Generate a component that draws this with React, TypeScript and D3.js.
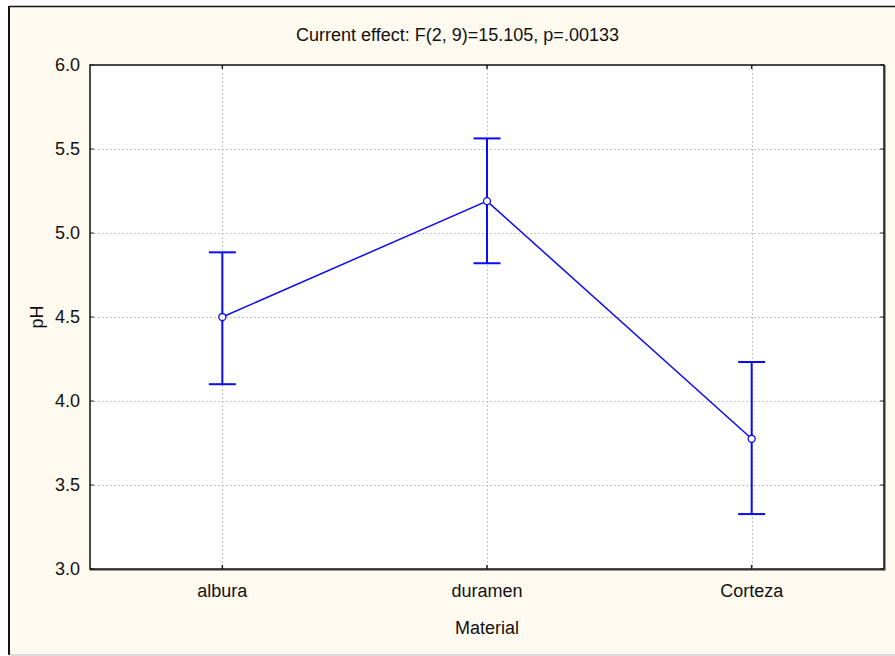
import React from "react";
import * as d3 from "d3";

// Mean pH by material with ±confidence intervals
const categories = ["albura", "duramen", "Corteza"];
const means = [4.5, 5.19, 3.775];
const upper = [4.885, 5.563, 4.232];
const lower = [4.1, 4.82, 3.327];
const yTicks = [3.0, 3.5, 4.0, 4.5, 5.0, 5.5, 6.0];
const title = "Current effect: F(2, 9)=15.105, p=.00133";
const xTitle = "Material";
const yTitle = "pH";

const W = 895;
const H = 656;
const plot = { left: 90, top: 65, right: 884, bottom: 569 };
const BLUE = "#0a0aff";
const FONT = "'Liberation Sans', Arial, sans-serif";

export default function App() {
  const x = d3
    .scalePoint<string>()
    .domain(categories)
    .range([plot.left, plot.right])
    .padding(0.5);
  const y = d3.scaleLinear().domain([3, 6]).range([plot.bottom, plot.top]);

  const pts = categories.map((c, i) => ({ c, m: means[i], hi: upper[i], lo: lower[i] }));
  const line = d3
    .line<(typeof pts)[number]>()
    .x((d) => x(d.c)!)
    .y((d) => y(d.m));

  const capHalf = 13.5;
  const tickLen = 4;

  return (
    <div style={{ position: "fixed", left: 0, top: 0 }}>
      <svg width={W} height={H} style={{ display: "block" }} fontFamily={FONT}>
        <rect x={0} y={0} width={W} height={H} fill="#ffffff" />
        <rect x={9} y={6.5} width={W} height={648} fill="#fffaf0" />
        {/* outer frame */}
        <line x1={9} y1={6.5} x2={W} y2={6.5} stroke="#111" strokeWidth={1.6} />
        <line x1={9} y1={6} x2={9} y2={655} stroke="#111" strokeWidth={2} />
        <line x1={9} y1={655} x2={W} y2={655} stroke="#b8b8b8" strokeWidth={1} />

        {/* plot area */}
        <rect
          x={plot.left + 1}
          y={plot.top + 1}
          width={plot.right - plot.left}
          height={plot.bottom - plot.top}
          fill="none"
          stroke="#777"
          strokeWidth={1.5}
        />
        <rect
          x={plot.left}
          y={plot.top}
          width={plot.right - plot.left}
          height={plot.bottom - plot.top}
          fill="#ffffff"
        />

        {/* grid */}
        {yTicks.slice(1, -1).map((t) => (
          <line
            key={"gy" + t}
            x1={plot.left}
            x2={plot.right}
            y1={Math.round(y(t)) + 0.5}
            y2={Math.round(y(t)) + 0.5}
            stroke="#c4c4c4"
            strokeWidth={1}
            strokeDasharray="2,2"
          />
        ))}
        {categories.map((c) => (
          <line
            key={"gx" + c}
            x1={Math.round(x(c)!) + 0.5}
            x2={Math.round(x(c)!) + 0.5}
            y1={plot.top}
            y2={plot.bottom}
            stroke="#c4c4c4"
            strokeWidth={1}
            strokeDasharray="2,2"
          />
        ))}

        {/* ticks */}
        {yTicks.map((t) => (
          <g key={"ty" + t}>
            <line x1={plot.left} x2={plot.left + tickLen} y1={y(t)} y2={y(t)} stroke="#222" strokeWidth={1} />
            <line x1={plot.right} x2={plot.right - tickLen} y1={y(t)} y2={y(t)} stroke="#222" strokeWidth={1} />
            <text
              x={plot.left - 10}
              y={y(t)}
              dy="0.36em"
              textAnchor="end"
              fontSize={18}
              fill="#111"
            >
              {d3.format(".1f")(t)}
            </text>
          </g>
        ))}
        {categories.map((c) => (
          <g key={"tx" + c}>
            <line x1={x(c)} x2={x(c)} y1={plot.bottom} y2={plot.bottom - tickLen} stroke="#222" strokeWidth={1.5} />
            <line x1={x(c)} x2={x(c)} y1={plot.top} y2={plot.top + tickLen} stroke="#222" strokeWidth={1.5} />
            <text x={x(c)} y={597} textAnchor="middle" fontSize={18} fill="#111">
              {c}
            </text>
          </g>
        ))}

        {/* frame */}
        <rect
          x={plot.left}
          y={plot.top}
          width={plot.right - plot.left}
          height={plot.bottom - plot.top}
          fill="none"
          stroke="#111"
          strokeWidth={1.5}
        />

        {/* error bars */}
        {pts.map((d) => {
          const cx = x(d.c)!;
          return (
            <g key={"eb" + d.c} stroke={BLUE} strokeWidth={2}>
              <line x1={cx} x2={cx} y1={y(d.hi)} y2={y(d.lo)} />
              <line x1={cx - capHalf} x2={cx + capHalf} y1={y(d.hi)} y2={y(d.hi)} />
              <line x1={cx - capHalf} x2={cx + capHalf} y1={y(d.lo)} y2={y(d.lo)} />
            </g>
          );
        })}

        {/* mean line */}
        <path d={line(pts)!} fill="none" stroke={BLUE} strokeWidth={1.5} />
        {pts.map((d) => (
          <circle
            key={"pt" + d.c}
            cx={x(d.c)}
            cy={y(d.m)}
            r={3.5}
            fill="#ffffff"
            stroke={BLUE}
            strokeWidth={1.3}
          />
        ))}

        {/* titles */}
        <text x={457.5} y={41} textAnchor="middle" fontSize={18} fill="#111">
          {title}
        </text>
        <text x={(plot.left + plot.right) / 2} y={634} textAnchor="middle" fontSize={18} fill="#111">
          {xTitle}
        </text>
        <text
          transform={`translate(43, ${(plot.top + plot.bottom) / 2}) rotate(-90)`}
          textAnchor="middle"
          fontSize={18}
          fill="#111"
        >
          {yTitle}
        </text>
      </svg>
    </div>
  );
}
